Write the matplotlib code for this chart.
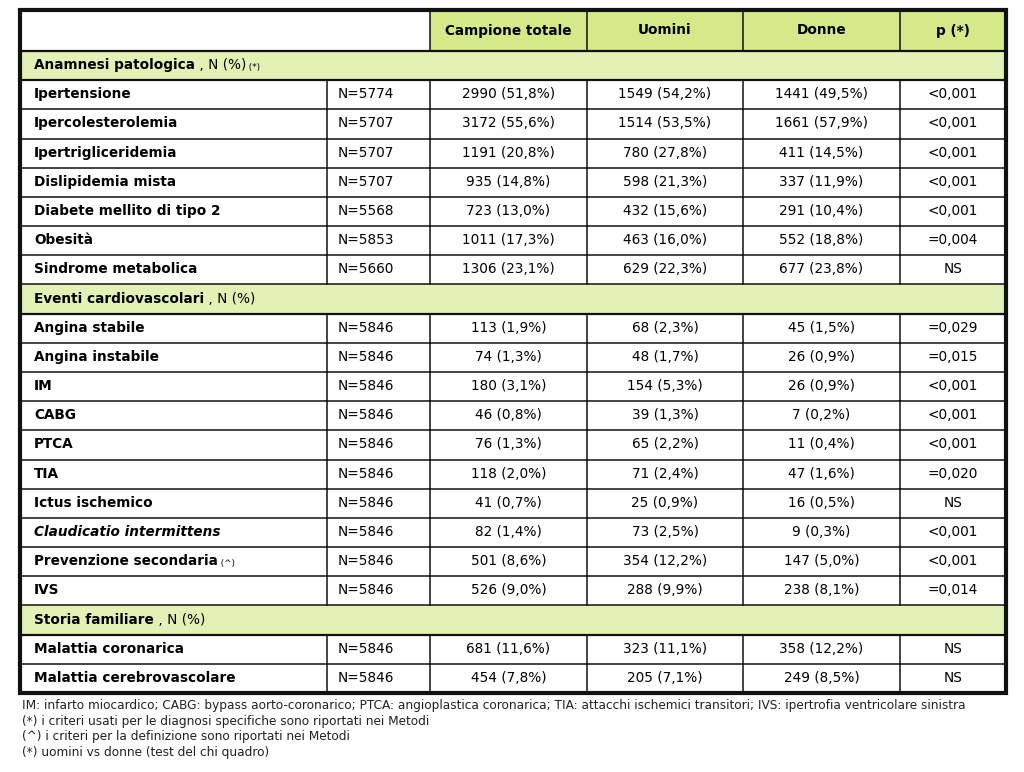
import matplotlib
matplotlib.use("Agg")
import matplotlib.pyplot as plt
from matplotlib.patches import Rectangle

plt.rcParams['font.family'] = ['DejaVu Sans']

# ---------------- data ----------------
col_headers = ["Campione totale", "Uomini", "Donne", "p (*)"]

sec1_title = "Anamnesi patologica"
sec1_suffix = " , N (%)"
sec1_note = " (*)"
sec1_labels = ["Ipertensione", "Ipercolesterolemia", "Ipertrigliceridemia", "Dislipidemia mista",
               "Diabete mellito di tipo 2", "Obesità", "Sindrome metabolica"]
sec1_n = ["N=5774", "N=5707", "N=5707", "N=5707", "N=5568", "N=5853", "N=5660"]
sec1_tot = ["2990 (51,8%)", "3172 (55,6%)", "1191 (20,8%)", "935 (14,8%)", "723 (13,0%)",
            "1011 (17,3%)", "1306 (23,1%)"]
sec1_men = ["1549 (54,2%)", "1514 (53,5%)", "780 (27,8%)", "598 (21,3%)", "432 (15,6%)",
            "463 (16,0%)", "629 (22,3%)"]
sec1_women = ["1441 (49,5%)", "1661 (57,9%)", "411 (14,5%)", "337 (11,9%)", "291 (10,4%)",
              "552 (18,8%)", "677 (23,8%)"]
sec1_p = ["<0,001", "<0,001", "<0,001", "<0,001", "<0,001", "=0,004", "NS"]

sec2_title = "Eventi cardiovascolari"
sec2_suffix = " , N (%)"
sec2_note = ""
sec2_labels = ["Angina stabile", "Angina instabile", "IM", "CABG", "PTCA", "TIA", "Ictus ischemico",
               "Claudicatio intermittens", "Prevenzione secondaria", "IVS"]
sec2_n = ["N=5846"] * 10
sec2_tot = ["113 (1,9%)", "74 (1,3%)", "180 (3,1%)", "46 (0,8%)", "76 (1,3%)", "118 (2,0%)",
            "41 (0,7%)", "82 (1,4%)", "501 (8,6%)", "526 (9,0%)"]
sec2_men = ["68 (2,3%)", "48 (1,7%)", "154 (5,3%)", "39 (1,3%)", "65 (2,2%)", "71 (2,4%)",
            "25 (0,9%)", "73 (2,5%)", "354 (12,2%)", "288 (9,9%)"]
sec2_women = ["45 (1,5%)", "26 (0,9%)", "26 (0,9%)", "7 (0,2%)", "11 (0,4%)", "47 (1,6%)",
              "16 (0,5%)", "9 (0,3%)", "147 (5,0%)", "238 (8,1%)"]
sec2_p = ["=0,029", "=0,015", "<0,001", "<0,001", "<0,001", "=0,020", "NS", "<0,001", "<0,001", "=0,014"]

sec3_title = "Storia familiare"
sec3_suffix = " , N (%)"
sec3_note = ""
sec3_labels = ["Malattia coronarica", "Malattia cerebrovascolare"]
sec3_n = ["N=5846", "N=5846"]
sec3_tot = ["681 (11,6%)", "454 (7,8%)"]
sec3_men = ["323 (11,1%)", "205 (7,1%)"]
sec3_women = ["358 (12,2%)", "249 (8,5%)"]
sec3_p = ["NS", "NS"]

label_notes = {"Prevenzione secondaria": " (^)"}
italic_labels = {"Claudicatio intermittens"}

footnotes = [
    "IM: infarto miocardico; CABG: bypass aorto-coronarico; PTCA: angioplastica coronarica; TIA: attacchi ischemici transitori; IVS: ipertrofia ventricolare sinistra",
    "(*) i criteri usati per le diagnosi specifiche sono riportati nei Metodi",
    "(^) i criteri per la definizione sono riportati nei Metodi",
    "(*) uomini vs donne (test del chi quadro)",
]

sections = [
    (sec1_title, sec1_suffix, sec1_note, sec1_labels, sec1_n, sec1_tot, sec1_men, sec1_women, sec1_p),
    (sec2_title, sec2_suffix, sec2_note, sec2_labels, sec2_n, sec2_tot, sec2_men, sec2_women, sec2_p),
    (sec3_title, sec3_suffix, sec3_note, sec3_labels, sec3_n, sec3_tot, sec3_men, sec3_women, sec3_p),
]

# ---------------- layout ----------------
W, H = 1024, 772
fig = plt.figure(figsize=(W / 100, H / 100), dpi=100)
ax = fig.add_axes([0, 0, 1, 1])
ax.set_xlim(0, W)
ax.set_ylim(H, 0)
ax.axis('off')

HEAD_GREEN = "#d5e88a"
SEC_GREEN = "#e3f1b6"
LINE = "#111111"
FS = 9.8

xe = [20, 327, 430, 587, 743, 900, 1006]
top = 10
head_h = 41
n_rows = sum(1 + len(s[3]) for s in sections)
bottom = 693
row_h = (bottom - top - head_h) / n_rows

# header
ax.add_patch(Rectangle((xe[2], top), xe[-1] - xe[2], head_h, facecolor=HEAD_GREEN, edgecolor='none'))
for i, h in enumerate(col_headers):
    xc = (xe[2 + i] + xe[3 + i]) / 2
    ax.text(xc, top + head_h / 2, h, ha='center', va='center', fontsize=FS, fontweight='bold')
for x in xe[2:-1]:
    ax.plot([x, x], [top, top + head_h], color=LINE, lw=1.1)

y = top + head_h
ax.plot([xe[0], xe[-1]], [y, y], color=LINE, lw=1.6)


def chain(x, yc, parts):
    prev = None
    for txt, kw in parts:
        if not txt:
            continue
        if prev is None:
            prev = ax.text(x, yc, txt, ha='left', va='baseline', **kw)
        else:
            prev = ax.annotate(txt, xy=(1, 0), xycoords=prev, ha='left', va='bottom', **kw)
    return prev


for (title, suffix, note, labels, ns, tots, men, women, ps) in sections:
    # section row
    ax.add_patch(Rectangle((xe[0], y), xe[-1] - xe[0], row_h, facecolor=SEC_GREEN, edgecolor='none'))
    chain(34, y + row_h / 2 + 3.5,
          [(title, dict(fontsize=FS, fontweight='bold')),
           (suffix, dict(fontsize=FS)),
           (note, dict(fontsize=6.3))])
    y += row_h
    ax.plot([xe[0], xe[-1]], [y, y], color=LINE, lw=1.6)
    for j, lab in enumerate(labels):
        yc = y + row_h / 2
        style = 'italic' if lab in italic_labels else 'normal'
        chain(34, yc + 3.5,
              [(lab, dict(fontsize=FS, fontweight='bold', fontstyle=style)),
               (label_notes.get(lab, ""), dict(fontsize=6.3))])
        ax.text(338, yc - 0.5, ns[j], ha='left', va='center', fontsize=FS)
        for k, v in enumerate([tots[j], men[j], women[j], ps[j]]):
            xc = (xe[2 + k] + xe[3 + k]) / 2
            ax.text(xc, yc - 0.5, v, ha='center', va='center', fontsize=FS)
        for x in xe[1:-1]:
            ax.plot([x, x], [y, y + row_h], color=LINE, lw=1.1)
        y += row_h
        if y < bottom - 1:
            ax.plot([xe[0], xe[-1]], [y, y], color=LINE, lw=1.1)

# outer border
ax.add_patch(Rectangle((xe[0], top), xe[-1] - xe[0], bottom - top, facecolor='none',
                       edgecolor=LINE, lw=3.0))

# footnotes
for i, fn in enumerate(footnotes):
    ax.text(22, 706 + i * 15.4, fn, ha='left', va='center', fontsize=8.75, color='#222222')

fig.savefig("out.png", dpi=100)
